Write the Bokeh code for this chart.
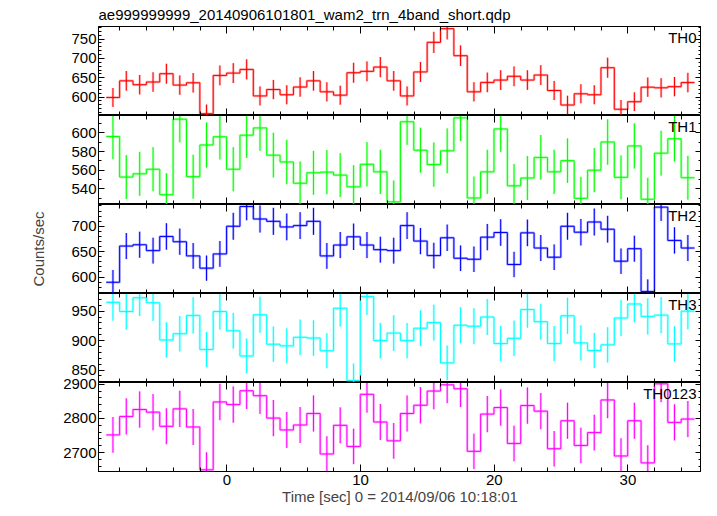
import numpy as np
from bokeh.plotting import figure
from bokeh.models import Range1d, LinearAxis, SingleIntervalTicker, Label, CustomJSTickFormatter
from bokeh.layouts import column
from bokeh.embed import file_html
from bokeh.resources import INLINE

# ---------------- data ----------------
title_text = "ae999999999_20140906101801_wam2_trn_4band_short.qdp"
x_title = "Time [sec] 0 = 2014/09/06 10:18:01"
y_title = "Counts/sec"

time_sec = [-8.52, -7.52, -6.52, -5.52, -4.52, -3.52, -2.52, -1.52, -0.52, 0.48,
            1.48, 2.48, 3.48, 4.48, 5.48, 6.48, 7.48, 8.48, 9.48, 10.48,
            11.48, 12.48, 13.48, 14.48, 15.48, 16.48, 17.48, 18.48, 19.48, 20.48,
            21.48, 22.48, 23.48, 24.48, 25.48, 26.48, 27.48, 28.48, 29.48, 30.48,
            31.48, 32.48, 33.48, 34.48]
bin_width = 1.0

th0 = [599, 642, 632, 639, 660.5, 631, 637, 557, 656, 662, 671.6, 603, 619.6, 606,
       626, 642, 613.6, 605, 663, 666.5, 677.6, 642, 603, 665, 741.5, 777, 707, 613.6,
       638, 644, 653.7, 644, 657, 617, 579.5, 608.5, 606, 676, 568.5, 588, 625.6, 624,
       627, 637.5]
th1 = [596.1, 552.6, 556.1, 561, 533.7, 614.7, 553, 587, 595.8, 561, 597.5, 605.3,
       576.1, 568.8, 546, 557.2, 557.9, 554.7, 542.1, 566.3, 558.2, 526, 611.9, 581.4,
       566, 580.7, 616.1, 530.2, 558.2, 604.2, 543.2, 551.6, 573.7, 558.2, 570.2, 529.8,
       560, 590.2, 552.3, 586, 528.8, 578.2, 593.7, 551.9]
th2 = [589.6, 661, 663.6, 652, 679.9, 669.5, 641.6, 617.5, 645.5, 700, 739, 714.3,
       709.7, 698.7, 701.3, 709.7, 641.6, 663, 679.2, 663, 653.9, 652, 701.3, 670.8,
       642.2, 677.3, 637, 635, 678.6, 687.7, 624.7, 687, 657.1, 639, 700, 688.3, 708.4,
       694.2, 631.2, 655.8, 571.4, 737.7, 672.1, 657.1]
th3 = [965, 949.4, 972.8, 964.4, 901.1, 911.7, 942.8, 885, 949.4, 916.7, 873.9, 943.9,
       893.9, 891.1, 905.6, 904.4, 882.8, 955, 832.2, 975, 900, 912.8, 900, 921.1, 930.6,
       862.2, 926.1, 924.4, 940, 895, 903.9, 952.8, 932.2, 895, 942.2, 896.1, 883.3,
       892.8, 938.3, 962.2, 941.1, 943.3, 894.4, 950]
th0123 = [2751.7, 2805.8, 2826.1, 2818.4, 2776.8, 2828, 2774.9, 2649.3, 2848.3, 2840.6,
          2881.2, 2866.7, 2801, 2766.2, 2780.7, 2814.5, 2695.7, 2779.7, 2717.9, 2870.5,
          2789.4, 2734.3, 2814.5, 2838.6, 2880.2, 2898.6, 2887, 2703.4, 2812.6, 2831.9,
          2726.6, 2837.7, 2821.3, 2711.1, 2793.2, 2720.8, 2758.5, 2854.1, 2689.9, 2793.2,
          2669.6, 2901.5, 2788.4, 2798.1]

panel_names = ["TH0", "TH1", "TH2", "TH3", "TH0123"]
panel_values = [th0, th1, th2, th3, th0123]
panel_colors = ["#ff0000", "#00ff00", "#0000ff", "#00ffff", "#ff00ff"]
y_limits = [(552.4, 782.5), (523.2, 618.6), (567.5, 742.9), (828.9, 980.0), (2644.4, 2905.3)]
y_major = [50, 20, 50, 50, 100]
y_minor_count = [5, 2, 5, 5, 5]
x_limits = (-9.6, 35.5)
x_major = 10
x_minor_count = 5

# ---------------- styling ----------------
FONT = "Liberation Sans"
FS = "15px"
FRAME_W = 603
FRAME_H = 89
LEFT = 98
OVERLAP = 9

x_range = Range1d(*x_limits)
blank = CustomJSTickFormatter(code="return ''")


def style_axis(ax, major_in, minor_in, show_labels):
    ax.major_tick_in = major_in
    ax.major_tick_out = 0
    ax.minor_tick_in = minor_in
    ax.minor_tick_out = 0
    ax.axis_line_color = "black"
    ax.axis_line_width = 1
    ax.major_tick_line_color = "black"
    ax.minor_tick_line_color = "black"
    if show_labels:
        ax.major_label_text_font = FONT
        ax.major_label_text_font_size = FS
        ax.major_label_text_color = "black"
    else:
        ax.formatter = blank
        ax.major_label_text_font_size = "0px"
        ax.major_label_standoff = 0


figs = []
for k in range(5):
    first = k == 0
    last = k == 4
    vals = np.array(panel_values[k], dtype=float)
    t = np.array(time_sec, dtype=float)
    err = np.sqrt(vals * bin_width) / bin_width   # Poisson errors for 1-s bins
    color = panel_colors[k]

    extra = {}
    if last:
        # let the top tick label (2900) spill over the panel above, as in the original
        extra = dict(styles={"margin-top": f"-{OVERLAP}px"})
    p = figure(frame_width=FRAME_W, frame_height=FRAME_H,
               x_range=x_range, y_range=Range1d(*y_limits[k]),
               output_backend="svg", toolbar_location=None,
               min_border_left=LEFT, min_border_right=0,
               min_border_top=OVERLAP if last else 0, min_border_bottom=0,
               background_fill_color="white", border_fill_color="white",
               border_fill_alpha=0 if last else 1, **extra)
    p.grid.visible = False
    p.outline_line_color = "black"

    xt = SingleIntervalTicker(interval=x_major, num_minor_ticks=x_minor_count)
    yt = SingleIntervalTicker(interval=y_major[k], num_minor_ticks=y_minor_count[k])

    bottom_ax = p.xaxis[0]
    left_ax = p.yaxis[0]
    bottom_ax.ticker = xt
    style_axis(bottom_ax, 7, 4, last)
    left_ax.ticker = yt
    style_axis(left_ax, 6, 3, True)
    left_ax.major_label_standoff = 2

    top_ax = LinearAxis(ticker=xt)
    style_axis(top_ax, 7, 4, False)
    p.add_layout(top_ax, "above")
    right_ax = LinearAxis(ticker=yt)
    style_axis(right_ax, 6, 3, False)
    p.add_layout(right_ax, "right")

    if first:
        p.title.text = title_text
        p.title.text_font = FONT
        p.title.text_font_size = FS
        p.title.text_font_style = "normal"
        p.title.align = "left"
        p.title.standoff = 7
        p.title.text_color = "black"
    if last:
        bottom_ax.axis_label = x_title
        bottom_ax.axis_label_text_font = FONT
        bottom_ax.axis_label_text_font_size = FS
        bottom_ax.axis_label_text_font_style = "normal"
        bottom_ax.axis_label_standoff = 0
        bottom_ax.major_label_standoff = 3
    if k == 2:
        left_ax.axis_label = y_title
        left_ax.axis_label_text_font = FONT
        left_ax.axis_label_text_font_size = FS
        left_ax.axis_label_text_font_style = "normal"
        left_ax.axis_label_standoff = 21

    edges = list(t - bin_width / 2) + [t[-1] + bin_width / 2]
    ystep = list(vals) + [vals[-1]]
    # light halo + core line, like the anti-aliased original
    p.step(edges, ystep, mode="after", line_color=color, line_width=2.5, line_alpha=0.3)
    p.step(edges, ystep, mode="after", line_color=color, line_width=1)
    p.segment(x0=t, y0=vals - err, x1=t, y1=vals + err,
              line_color=color, line_width=2.5, line_alpha=0.25)
    p.segment(x0=t, y0=vals - err, x1=t, y1=vals + err,
              line_color=color, line_width=1)

    p.add_layout(Label(x=x_limits[1], y=y_limits[k][1], x_offset=-5, y_offset=-2,
                       text=panel_names[k], text_align="right", text_baseline="top",
                       text_font=FONT, text_font_size=FS, text_color="black"))
    figs.append(p)

layout = column(*figs, spacing=0)
open("out.html", "w").write(file_html(layout, INLINE))
